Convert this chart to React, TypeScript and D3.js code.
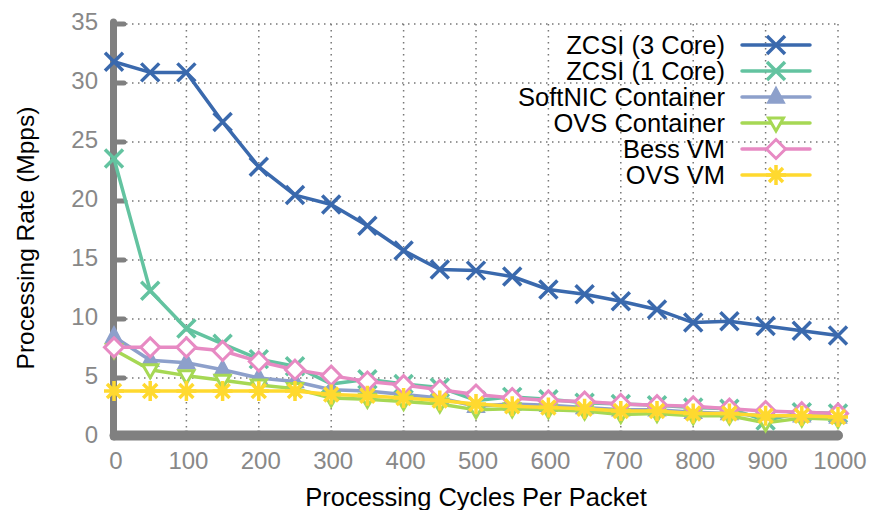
import React, { useEffect, useRef } from "react";
import * as d3 from "d3";

// processing cycles per packet
const cycles = [0, 50, 100, 150, 200, 250, 300, 350, 400, 450, 500, 550, 600, 650, 700, 750, 800, 850, 900, 950, 1000];

// processing rate (Mpps)
const zcsi3 = [31.8, 30.9, 30.9, 26.7, 22.9, 20.5, 19.7, 17.9, 15.8, 14.2, 14.1, 13.6, 12.5, 12.1, 11.5, 10.8, 9.7, 9.8, 9.4, 9.0, 8.6];
const zcsi1 = [23.6, 12.4, 9.2, 7.9, 6.6, 6.0, 4.5, 4.9, 4.5, 4.2, 3.1, 3.4, 3.2, 2.9, 2.8, 2.7, 2.5, 2.4, 1.4, 2.1, 2.0];
const softnic = [8.5, 6.5, 6.3, 5.7, 5.0, 4.7, 4.0, 3.9, 3.6, 3.3, 2.6, 2.8, 2.7, 2.5, 2.3, 2.3, 2.1, 2.0, 1.8, 1.8, 1.7];
const ovsContainer = [7.4, 5.7, 5.2, 4.8, 4.4, 4.1, 3.3, 3.2, 3.0, 2.8, 2.3, 2.4, 2.3, 2.2, 1.9, 2.0, 1.8, 1.8, 1.2, 1.6, 1.5];
const bessVm = [7.6, 7.6, 7.6, 7.3, 6.4, 5.7, 5.2, 4.7, 4.4, 4.0, 3.6, 3.3, 3.1, 3.0, 2.8, 2.7, 2.6, 2.4, 2.2, 2.1, 2.0];
const ovsVm = [3.9, 3.9, 3.9, 3.9, 3.9, 3.9, 3.6, 3.5, 3.3, 3.1, 2.8, 2.6, 2.5, 2.4, 2.2, 2.2, 2.0, 2.0, 1.8, 1.8, 1.7];

const xTicks = [0, 100, 200, 300, 400, 500, 600, 700, 800, 900, 1000];
const yTicks = [0, 5, 10, 15, 20, 25, 30, 35];

const series = [
  { name: "ZCSI (3 Core)", values: zcsi3, color: "#3a69ad", marker: "x" },
  { name: "ZCSI (1 Core)", values: zcsi1, color: "#63c3a0", marker: "x" },
  { name: "SoftNIC Container", values: softnic, color: "#8da0cb", marker: "tri" },
  { name: "OVS Container", values: ovsContainer, color: "#a6d854", marker: "dtri" },
  { name: "Bess VM", values: bessVm, color: "#e78ac3", marker: "diamond" },
  { name: "OVS VM", values: ovsVm, color: "#ffd92f", marker: "star" },
];

const FONT = "'Liberation Sans', Arial, Helvetica, sans-serif";

function drawMarker(g: any, kind: string, cx: number, cy: number, color: string) {
  const s = 9;
  if (kind === "x") {
    g.append("path")
      .attr("d", `M${cx - s},${cy - s}L${cx + s},${cy + s}M${cx - s},${cy + s}L${cx + s},${cy - s}`)
      .attr("stroke", color)
      .attr("stroke-width", 3.5)
      .attr("fill", "none");
  } else if (kind === "tri") {
    g.append("path")
      .attr("d", `M${cx},${cy - 10}L${cx + 8.5},${cy + 6}L${cx - 8.5},${cy + 6}Z`)
      .attr("fill", color)
      .attr("stroke", color)
      .attr("stroke-width", 1.5);
  } else if (kind === "dtri") {
    g.append("path")
      .attr("d", `M${cx - 7.5},${cy - 5}L${cx + 7.5},${cy - 5}L${cx},${cy + 8}Z`)
      .attr("fill", "white")
      .attr("stroke", color)
      .attr("stroke-width", 3);
  } else if (kind === "diamond") {
    g.append("path")
      .attr("d", `M${cx},${cy - 9.5}L${cx + 9.5},${cy}L${cx},${cy + 9.5}L${cx - 9.5},${cy}Z`)
      .attr("fill", "white")
      .attr("stroke", color)
      .attr("stroke-width", 3);
  } else if (kind === "star") {
    const d = 7;
    g.append("path")
      .attr(
        "d",
        `M${cx - d},${cy - d}L${cx + d},${cy + d}M${cx - d},${cy + d}L${cx + d},${cy - d}` +
          `M${cx},${cy - 10}L${cx},${cy + 10}M${cx - 10},${cy}L${cx + 10},${cy}`
      )
      .attr("stroke", color)
      .attr("stroke-width", 3.5)
      .attr("fill", "none");
  }
}

export default function App() {
  const ref = useRef<SVGSVGElement>(null);

  useEffect(() => {
    const svg = d3.select(ref.current);
    svg.selectAll("*").remove();

    const x = d3.scaleLinear().domain([0, 1000]).range([114, 838]);
    const y = d3.scaleLinear().domain([0, 35]).range([437, 24]);

    const axisColor = "#808080";

    // dotted grid
    const grid = svg.append("g");
    grid
      .selectAll("line.h")
      .data(yTicks.filter((t) => t > 0))
      .join("line")
      .attr("x1", x(0))
      .attr("x2", x(1000))
      .attr("y1", (d) => y(d))
      .attr("y2", (d) => y(d))
      .attr("stroke", "#777")
      .attr("stroke-width", 1.5)
      .attr("stroke-dasharray", "1.5,4.5");
    grid
      .selectAll("line.v")
      .data(xTicks.filter((t) => t > 0))
      .join("line")
      .attr("x1", (d) => x(d))
      .attr("x2", (d) => x(d))
      .attr("y1", y(35))
      .attr("y2", y(0))
      .attr("stroke", "#777")
      .attr("stroke-width", 1.5)
      .attr("stroke-dasharray", "1.5,4.5");

    // axes
    const ax = svg.append("g");
    ax.append("line")
      .attr("x1", x(0) - 0.5)
      .attr("x2", x(0) - 0.5)
      .attr("y1", y(35) - 2)
      .attr("y2", y(0))
      .attr("stroke", axisColor)
      .attr("stroke-width", 7)
      .attr("stroke-linecap", "round");
    ax.selectAll("line.yt")
      .data(yTicks.filter((t) => t > 0))
      .join("line")
      .attr("x1", x(0))
      .attr("x2", x(0) + 10)
      .attr("y1", (d) => y(d))
      .attr("y2", (d) => y(d))
      .attr("stroke", axisColor)
      .attr("stroke-width", 5)
      .attr("stroke-linecap", "round");
    ax.selectAll("circle.xt")
      .data(xTicks.filter((t) => t > 0))
      .join("circle")
      .attr("cx", (d) => x(d))
      .attr("cy", y(0) - 3)
      .attr("r", 3.5)
      .attr("fill", axisColor);
    ax.append("line")
      .attr("x1", x(0) + 0.5)
      .attr("x2", x(1000))
      .attr("y1", y(0) - 1.5)
      .attr("y2", y(0) - 1.5)
      .attr("stroke", axisColor)
      .attr("stroke-width", 10)
      .attr("stroke-linecap", "round");

    // tick labels
    svg
      .append("g")
      .selectAll("text")
      .data(yTicks)
      .join("text")
      .attr("x", 98)
      .attr("y", (d) => y(d) + 6)
      .attr("text-anchor", "end")
      .attr("fill", "#888")
      .style("font-family", FONT)
      .style("font-size", "24px")
      .text((d) => d);
    svg
      .append("g")
      .selectAll("text")
      .data(xTicks)
      .join("text")
      .attr("x", (d) => x(d) + 2)
      .attr("y", 469)
      .attr("text-anchor", "middle")
      .attr("fill", "#888")
      .style("font-family", FONT)
      .style("font-size", "24px")
      .text((d) => d);

    // axis titles
    svg
      .append("text")
      .attr("x", 476)
      .attr("y", 506)
      .attr("text-anchor", "middle")
      .attr("fill", "black")
      .style("font-family", FONT)
      .style("font-size", "25.5px")
      .text("Processing Cycles Per Packet");
    svg
      .append("text")
      .attr("transform", "translate(34,238) rotate(-90)")
      .attr("text-anchor", "middle")
      .attr("fill", "black")
      .style("font-family", FONT)
      .style("font-size", "24.5px")
      .text("Processing Rate (Mpps)");

    // series
    const line = d3
      .line<number>()
      .x((d, i) => x(cycles[i]))
      .y((d) => y(d));

    series.forEach((s) => {
      const g = svg.append("g");
      g.append("path")
        .attr("d", line(s.values))
        .attr("fill", "none")
        .attr("stroke", s.color)
        .attr("stroke-width", 3.5)
        .attr("stroke-linejoin", "round");
      s.values.forEach((v, i) => drawMarker(g, s.marker, x(cycles[i]), y(v), s.color));
    });

    // legend
    const leg = svg.append("g");
    series.forEach((s, i) => {
      const ly = 45 + i * 26;
      leg.append("text")
        .attr("x", 725)
        .attr("y", ly + 9)
        .attr("text-anchor", "end")
        .attr("fill", "black")
        .style("font-family", FONT)
        .style("font-size", "25.5px")
        .text(s.name);
      leg.append("line")
        .attr("x1", 742)
        .attr("x2", 810)
        .attr("y1", ly)
        .attr("y2", ly)
        .attr("stroke", s.color)
        .attr("stroke-width", 3.5)
        .attr("stroke-linecap", "round");
      drawMarker(leg, s.marker, 776, ly, s.color);
    });
  }, []);

  return (
    <svg
      ref={ref}
      width={872}
      height={510}
      style={{ position: "absolute", left: 0, top: 0, background: "white" }}
    ></svg>
  );
}
